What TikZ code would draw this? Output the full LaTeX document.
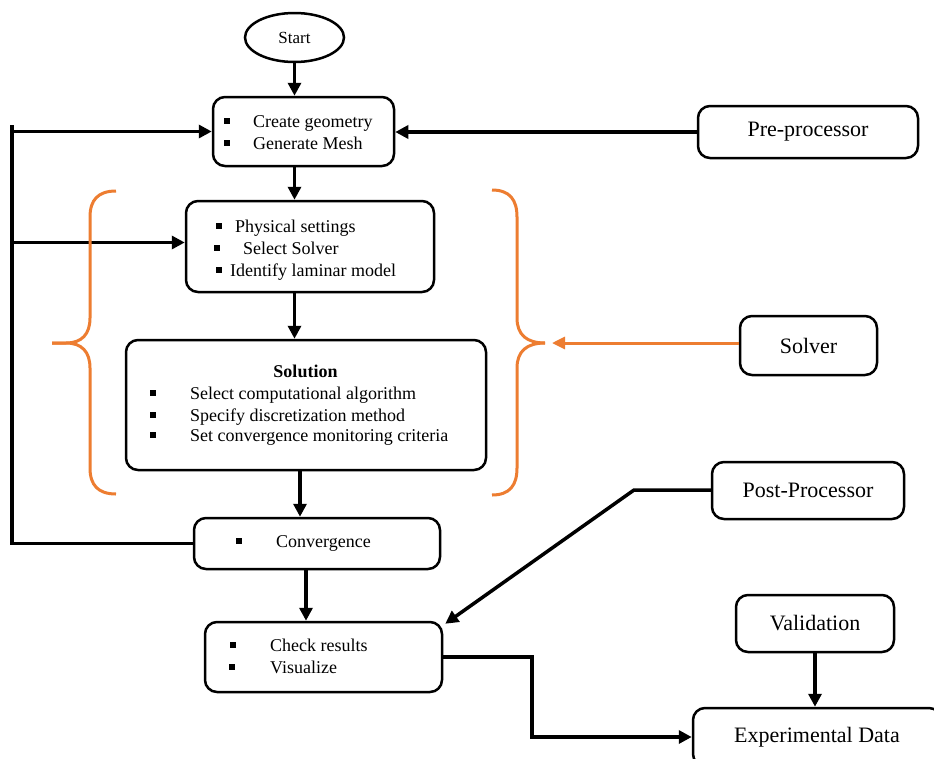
\documentclass[tikz,border=0pt]{standalone}
\usepackage{fontspec}
\setmainfont{Liberation Serif}
\usetikzlibrary{arrows.meta,shapes.geometric}
\definecolor{brorange}{RGB}{237,125,49}
\begin{document}
\begin{tikzpicture}[x=1pt,y=-1pt,
 box/.style={draw,line width=2.5pt,rounded corners=12pt,inner sep=0pt},
 lbl/.style={font=\fontsize{22}{26}\selectfont},
 txt/.style={font=\fontsize{18}{22}\selectfont,inner sep=0pt,anchor=base west},
 bsq/.style={fill=black,inner sep=0pt,minimum size=6pt},
 conn/.style={line width=3.5pt},
 arr/.style={conn,-{Triangle[length=13pt,width=13pt]}},
 brace/.style={draw=brorange,line width=3pt}]
\clip (0,0) rectangle (934,758);
\fill[white] (0,0) rectangle (934,758);

% main boxes
\node[draw,ellipse,line width=2.5pt,minimum width=99pt,minimum height=49pt,inner sep=0pt,font=\fontsize{17}{20}\selectfont] (start) at (294.5,37.5) {Start};
\node[box,minimum width=181pt,minimum height=69pt] (box1) at (303.5,131.5) {};
\node[box,minimum width=248pt,minimum height=91pt] (box2) at (310,246.5) {};
\node[box,minimum width=360pt,minimum height=130pt] (box3) at (306,405) {};
\node[box,minimum width=246pt,minimum height=51pt] (conv) at (317,543.5) {};
\node[box,minimum width=237pt,minimum height=70pt] (check) at (323.5,657) {};

% side boxes
\node[box,lbl,minimum width=220pt,minimum height=52pt] (pre) at (808,132) {Pre-processor};
\node[box,lbl,minimum width=137pt,minimum height=59pt] (solver) at (808.5,345.5) {Solver};
\node[box,lbl,minimum width=192pt,minimum height=57pt] (post) at (808,490.5) {Post-Processor};
\node[box,lbl,minimum width=158pt,minimum height=57pt] (valid) at (815,623.5) {Validation};
\node[box,lbl,minimum width=248pt,minimum height=58pt] (exp) at (817,737) {\raisebox{4pt}{Experimental Data}};

% box1 text
\node[bsq] (b1a) at (227,121) {};
\node[bsq] (b1b) at (227,143) {};
\node[txt] (t1a) at (253,127) {Create geometry};
\node[txt] (t1b) at (253,149) {Generate Mesh};
% box2 text
\node[bsq] (b2a) at (219,226) {};
\node[bsq] (b2b) at (217,248) {};
\node[bsq] (b2c) at (219,270) {};
\node[txt] (t2a) at (235,232) {Physical settings};
\node[txt] (t2b) at (243,254) {Select Solver};
\node[txt] (t2c) at (230,276) {Identify laminar model};
% box3 text
\node[txt,anchor=base] (t3h) at (305.5,377) {\textbf{Solution}};
\node[bsq] (b3a) at (153,393) {};
\node[bsq] (b3b) at (153,415) {};
\node[bsq] (b3c) at (153,435) {};
\node[txt] (t3a) at (190,399) {Select computational algorithm};
\node[txt] (t3b) at (190,421) {Specify discretization method};
\node[txt] (t3c) at (190,441) {Set convergence monitoring criteria};
% conv text
\node[bsq] (b4a) at (239,541) {};
\node[txt] (t4a) at (276,547) {Convergence};
% check text
\node[bsq] (b5a) at (233,645) {};
\node[bsq] (b5b) at (232,667) {};
\node[txt] (t5a) at (270,651) {Check results};
\node[txt] (t5b) at (270,673) {Visualize};

% main flow
\draw[arr] (start.south) -- (start.south |- box1.north);
\draw[arr] (start.south |- box1.south) -- (start.south |- box2.north);
\draw[arr] (start.south |- box2.south) -- (start.south |- box3.north);
\draw[arr] ([xshift=-6pt]box3.south) -- ([xshift=-6pt]box3.south |- conv.north);
\draw[arr] ([xshift=-11pt]conv.south) -- ([xshift=-11pt]conv.south |- check.north);

% feedback loop
\coordinate (fbtop) at (12,125);
\draw[conn] (conv.west) -| (fbtop);
\draw[arr] (fbtop |- box1.west) -- (box1.west);
\draw[arr] ([yshift=4pt]box2.west -| fbtop) -- ([yshift=4pt]box2.west);

% pre-processor
\draw[arr] (pre.west) -- (pre.west -| box1.east);

% post-processor
\coordinate (pbend) at (634,490);
\draw[arr] (post.west |- pbend) -- (pbend) -- ([xshift=2pt,yshift=-3pt]check.north east);

% check -> experimental
\coordinate (cbend) at (532,657);
\draw[arr] (check.east) -- (check.east -| cbend) -- (cbend |- exp.west) -- (exp.west);

% validation -> experimental
\draw[arr] (valid.south) -- (valid.south |- exp.north);

% braces
\coordinate (ltip) at (52,343);
\coordinate (rtip) at (545,343);
\draw[brace] (116,191) .. controls (98,191) and (90,200) .. (90,217) -- (90,318)
  .. controls (90,334) and (82,343) .. (66,343) -- (ltip);
\draw[brace] (ltip) -- (66,343) .. controls (82,343) and (90,352) .. (90,368) -- (90,468)
  .. controls (90,485) and (98,494) .. (116,494);
\draw[brace] (492,190) .. controls (510,190) and (517,200) .. (517,217) -- (517,318)
  .. controls (517,335) and (527,343) .. (rtip);
\draw[brace] (rtip) .. controls (527,343) and (517,351) .. (517,368) -- (517,468)
  .. controls (517,485) and (510,495) .. (492,495);

% solver arrow
\draw[draw=brorange,line width=3pt,-{Triangle[length=13pt,width=12pt]},brorange] (solver.west |- rtip) -- ([xshift=7pt]rtip);
\end{tikzpicture}
\end{document}
